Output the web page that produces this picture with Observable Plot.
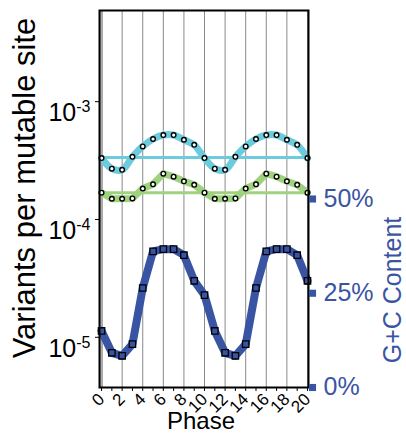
<!DOCTYPE html>
<html><head><meta charset="utf-8">
<script src="https://cdn.jsdelivr.net/npm/d3@7"></script>
<script src="https://cdn.jsdelivr.net/npm/@observablehq/plot@0.6"></script>
<style>
body{margin:0;background:#fff}
svg{font-family:"Liberation Sans",Arial,sans-serif}
</style>
</head><body><div id="chart"></div>
<script>
// ---- data ----
const phase = [0,1,2,3,4,5,6,7,8,9,10,11,12,13,14,15,16,17,18,19,20];
const phaseLabels = [0,2,4,6,8,10,12,14,16,18,20];
const cyanRate = [3.32e-4,2.70e-4,2.64e-4,3.40e-4,4.17e-4,4.82e-4,5.21e-4,5.21e-4,4.75e-4,4.30e-4,3.32e-4,
                  2.70e-4,2.64e-4,3.40e-4,4.17e-4,4.82e-4,5.21e-4,5.21e-4,4.75e-4,4.30e-4,3.32e-4];
const cyanMean = 3.36e-4;
const greenRate = [1.69e-4,1.50e-4,1.50e-4,1.51e-4,1.83e-4,1.99e-4,2.45e-4,2.31e-4,2.11e-4,1.97e-4,1.69e-4,
                   1.50e-4,1.50e-4,1.51e-4,1.83e-4,1.99e-4,2.45e-4,2.31e-4,2.11e-4,1.97e-4,1.69e-4];
const greenMean = 1.69e-4;
const gcContent = [15.0,9.2,8.4,11.5,26.4,36.1,36.7,36.7,35.1,28.3,24.5,
                   15.0,9.2,8.4,11.5,26.4,36.1,36.7,36.7,35.1,28.3];
const leftTicks = [1e-5,1e-4,1e-3];
const gcTicks = [0,25,50];
const gcTickLabels = ["0%","25%","50%"];

const cyan = "#6ccbdc", green = "#9fd27f", blue = "#3a54a4";
const xDomain = [-0.2, 20.1];
const yDomain = [3.75e-6, 5.94e-3];
// map G+C percentage (0..100) onto the left log scale (right axis spans the full frame)
const lo = Math.log10(yDomain[0]), hi = Math.log10(yDomain[1]);
const gcToY = g => Math.min(yDomain[1], Math.max(yDomain[0] * 1.0001, Math.pow(10, lo + (g / 100) * (hi - lo))));

const rows = phase.map((p, i) => ({phase: p, cyan: cyanRate[i], green: greenRate[i], gc: gcToY(gcContent[i])}));
const gcTickRows = gcTicks.map((g, i) => ({y: gcToY(g), label: gcTickLabels[i]}));

const chart = Plot.plot({
  width: 406, height: 433,
  marginLeft: 99, marginRight: 98, marginTop: 10, marginBottom: 46,
  x: {domain: xDomain},
  y: {type: "log", domain: yDomain},
  marks: [
    Plot.gridX(phaseLabels, {stroke: "#8a8a8a", strokeOpacity: 1, strokeWidth: 1}),
    Plot.ruleX([xDomain[0]], {stroke: "#aaaaaa", strokeWidth: 3, dx: 2}),
    Plot.ruleY([cyanMean], {x1: 0, x2: 20, stroke: cyan, strokeWidth: 3}),
    Plot.ruleY([greenMean], {x1: 0, x2: 20, stroke: green, strokeWidth: 3}),
    Plot.line(rows, {x: "phase", y: "cyan", stroke: cyan, strokeWidth: 7, curve: "catmull-rom"}),
    Plot.line(rows, {x: "phase", y: "green", stroke: green, strokeWidth: 7}),
    Plot.line(rows, {x: "phase", y: "gc", stroke: blue, strokeWidth: 8}),
    Plot.dot(rows, {x: "phase", y: "cyan", r: 2.3, stroke: "black", strokeWidth: 1.4, fill: "white"}),
    Plot.dot(rows, {x: "phase", y: "green", r: 2.3, stroke: "black", strokeWidth: 1.4, fill: "white"}),
    Plot.dot(rows, {x: "phase", y: "gc", symbol: "square", r: 3.6, stroke: "black", strokeWidth: 1.3, fill: blue}),
    Plot.frame({stroke: "black", strokeWidth: 2}),
    Plot.axisX(phase, {tickSize: 4, tickFormat: () => "", label: null}),
    Plot.axisX(phaseLabels, {tickSize: 0, tickPadding: 9, tickRotate: -45, fontSize: 17, label: null}),
    Plot.axisY(leftTicks, {tickSize: 4, tickPadding: 5, fontSize: 25, label: null,
      tickFormat: d => "10^" + Math.round(Math.log10(d))}),
    Plot.dot(gcTickRows, {y: "y", frameAnchor: "right", symbol: "square", r: 4, fill: blue, dx: 4}),
    Plot.text(gcTickRows, {y: "y", text: "label", frameAnchor: "right", textAnchor: "start", dx: 15,
      fontSize: 25, fill: blue})
  ]
});

document.getElementById("chart").appendChild(chart);
const svg = d3.select(chart);
svg.selectAll("text").each(function() {
  const t = d3.select(this);
  const m = /^10\^(-?\d+)$/.exec(t.text());
  if (m) {
    t.text("10").attr("dy", "0.45em");
    t.append("tspan").attr("dy", "-0.55em").attr("font-size", 16).text(m[1]);
  }
});
svg.append("text").attr("transform", "translate(35,188) rotate(-90)").attr("text-anchor", "middle")
  .attr("font-size", 31).attr("fill", "black").text("Variants per mutable site");
svg.append("text").attr("transform", "translate(401,290) rotate(-90)").attr("text-anchor", "middle")
  .attr("font-size", 25).attr("fill", blue).text("G+C Content");
svg.append("text").attr("x", 201).attr("y", 429).attr("text-anchor", "middle")
  .attr("font-size", 24).attr("fill", "black").text("Phase");
</script>
</body></html>
